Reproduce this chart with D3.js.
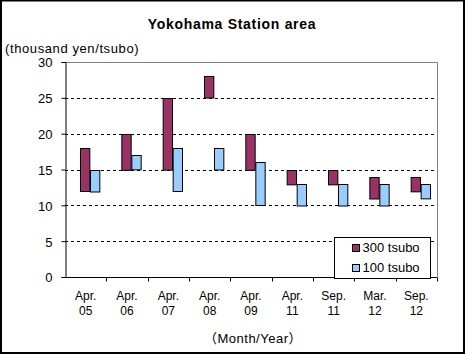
<!DOCTYPE html>
<html>
<head>
<meta charset="utf-8">
<script src="https://cdn.jsdelivr.net/npm/d3@7"></script>
<style>
  body { margin: 0; background: #fff; }
  svg text { font-family: "Liberation Sans", Arial, "Noto Sans CJK JP", sans-serif; fill: #000; }
</style>
</head>
<body>
<div id="chart"></div>
<script>
// categories (two-line labels)
const months = ['Apr.', 'Apr.', 'Apr.', 'Apr.', 'Apr.', 'Apr.', 'Sep.', 'Mar.', 'Sep.'];
const years = ['05', '06', '07', '08', '09', '11', '11', '12', '12'];
const seriesNames = ['300 tsubo', '100 tsubo'];
// floating bars: low / high per category
const low300 = [12, 15, 15, 25, 15, 13, 13, 11, 12];
const high300 = [18, 20, 25, 28, 20, 15, 15, 14, 14];
const low100 = [12, 15, 12, 15, 10, 10, 10, 10, 11];
const high100 = [15, 17, 18, 18, 16, 13, 13, 13, 13];
const yTicks = [0, 5, 10, 15, 20, 25, 30];
const colors = ['#993366', '#99ccff'];

const W = 465, H = 354;
const margin = {top: 62, right: 28, bottom: 77, left: 65};
const width = W - margin.left - margin.right;
const height = H - margin.top - margin.bottom;

const cats = months.map((m, i) => i);
const data = cats.map(i => ({
  i,
  vals: [
    {s: 0, lo: low300[i], hi: high300[i]},
    {s: 1, lo: low100[i], hi: high100[i]}
  ]
}));

const svg = d3.select('#chart').append('svg')
  .attr('width', W)
  .attr('height', H);

// outer frame
svg.append('rect')
  .attr('x', 1).attr('y', 0.5)
  .attr('width', W - 2).attr('height', H - 1.5)
  .attr('fill', '#fff')
  .attr('stroke', '#000')
  .attr('stroke-width', 2);

svg.append('text')
  .attr('x', 232).attr('y', 29)
  .attr('text-anchor', 'middle')
  .style('font-size', '14px')
  .style('font-weight', 'bold')
  .style('letter-spacing', '0.7px')
  .text('Yokohama Station area');

svg.append('text')
  .attr('x', 5).attr('y', 53)
  .style('font-size', '13px')
  .style('letter-spacing', '0.6px')
  .text('(thousand yen/tsubo)');

const g = svg.append('g')
  .attr('transform', `translate(${margin.left},${margin.top})`);

const x = d3.scaleBand().domain(cats).range([0, width]);
// three slots per category, first one left empty (like the hidden base series)
const xs = d3.scaleBand().domain(['base', 0, 1]).range([6, 34]);
const y = d3.scaleLinear().domain([0, 30]).range([height, 0]);

// plot frame (top & right grey)
g.append('path')
  .attr('d', `M0.5,${y(30) + 0.5}H${width + 0.5}V${height}`)
  .attr('fill', 'none')
  .attr('stroke', '#808080');

// dashed gridlines
g.selectAll('.grid')
  .data(yTicks.filter(d => d > 0 && d < 30))
  .enter().append('line')
  .attr('class', 'grid')
  .attr('x1', 0).attr('x2', width)
  .attr('y1', d => Math.round(y(d)) + 0.5)
  .attr('y2', d => Math.round(y(d)) + 0.5)
  .attr('stroke', '#000')
  .attr('stroke-dasharray', '3,3');

// bars
const groups = g.selectAll('.cat')
  .data(data)
  .enter().append('g')
  .attr('class', 'cat')
  .attr('transform', d => `translate(${x(d.i)},0)`);

groups.selectAll('rect')
  .data(d => d.vals)
  .enter().append('rect')
  .attr('x', d => Math.round(xs(d.s)) + 0.5)
  .attr('y', d => Math.round(y(d.hi)) + 0.5)
  .attr('width', xs.bandwidth())
  .attr('height', d => y(d.lo) - y(d.hi))
  .attr('fill', d => colors[d.s])
  .attr('stroke', '#000');

// y axis
const yAxis = g.append('g')
  .attr('transform', 'translate(0.5,0)')
  .call(d3.axisLeft(y).tickValues(yTicks).tickSize(4).tickPadding(9));
yAxis.select('.domain').attr('stroke', '#000');
yAxis.selectAll('text').style('font-size', '13px').attr('font-family', null)
  .attr('dy', '0.38em');

// x axis: ticks at category boundaries
const xAxis = g.append('g')
  .attr('transform', `translate(0,${height + 0.5})`);
xAxis.append('line')
  .attr('x1', 0).attr('x2', width)
  .attr('stroke', '#000');
xAxis.selectAll('.tick')
  .data(cats.slice(1).concat([cats.length]))
  .enter().append('line')
  .attr('x1', d => Math.round(d < cats.length ? x(d) : width) + 0.5)
  .attr('x2', d => Math.round(d < cats.length ? x(d) : width) + 0.5)
  .attr('y1', 0).attr('y2', 4)
  .attr('stroke', '#000');

const lbl = xAxis.selectAll('.lbl')
  .data(cats)
  .enter().append('text')
  .attr('text-anchor', 'middle')
  .style('font-size', '12px');
lbl.append('tspan')
  .attr('x', d => x(d) + x.bandwidth() / 2)
  .attr('y', 22)
  .text(d => months[d]);
lbl.append('tspan')
  .attr('x', d => x(d) + x.bandwidth() / 2)
  .attr('y', 37)
  .text(d => years[d]);

svg.append('text')
  .attr('x', 253).attr('y', 343)
  .attr('text-anchor', 'middle')
  .style('font-size', '13px')
  .style('letter-spacing', '0.5px')
  .text('（Month/Year）');

// legend
const lg = svg.append('g').attr('transform', 'translate(334.5,237.5)');
lg.append('rect')
  .attr('width', 96).attr('height', 41)
  .attr('fill', '#fff')
  .attr('stroke', '#000');
seriesNames.forEach((s, k) => {
  const row = lg.append('g').attr('transform', `translate(18,${7 + k * 20})`);
  row.append('rect')
    .attr('width', 7).attr('height', 7)
    .attr('fill', colors[k])
    .attr('stroke', '#000');
  row.append('text')
    .attr('x', 10).attr('y', 7.5)
    .style('font-size', '13px')
    .text(s);
});
</script>
</body>
</html>
